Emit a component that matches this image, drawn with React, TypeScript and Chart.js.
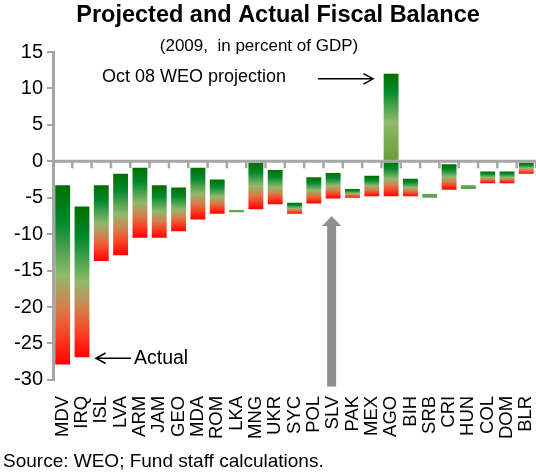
import React, { useEffect, useRef } from "react";
import { Chart, registerables } from "chart.js";

Chart.register(...registerables);

const categories = ["MDV","IRQ","ISL","LVA","ARM","JAM","GEO","MDA","ROM","LKA","MNG","UKR","SYC","POL","SLV","PAK","MEX","AGO","BIH","SRB","CRI","HUN","COL","DOM","BLR"];
const projected = [-3.3,-6.2,-3.3,-1.7,-0.9,-3.3,-3.6,-0.9,-2.5,-6.7,-0.2,-1.2,-5.7,-2.2,-1.6,-3.8,-2.0,12.0,-2.4,-4.5,-0.4,-3.3,-1.4,-1.4,-0.2];
const actual = [-27.9,-26.9,-13.7,-12.9,-10.5,-10.5,-9.6,-8.0,-7.2,-7.0,-6.6,-5.9,-7.2,-5.8,-5.1,-5.0,-4.8,-4.8,-4.8,-5.0,-3.9,-3.8,-3.0,-3.0,-1.7];
const yTicks = [15, 10, 5, 0, -5, -10, -15, -20, -25, -30];

const title = "Projected and Actual Fiscal Balance";
const subtitle = "(2009,  in percent of GDP)";
const source = "Source: WEO; Fund staff calculations.";
const projLabel = "Oct 08 WEO projection";
const actualLabel = "Actual";
const FONT = '"Liberation Sans", Arial, sans-serif';
const GRAY = "#a6a6a6";

function makeFill(kind: "below" | "above") {
  return (ctx: any) => {
    const chart = ctx.chart;
    const y = chart.scales && chart.scales.y;
    const raw = ctx.raw;
    if (!y || !raw || !Array.isArray(raw)) return "#3c9c3c";
    const top = y.getPixelForValue(Math.max(raw[0], raw[1]));
    const bot = y.getPixelForValue(Math.min(raw[0], raw[1]));
    if (!isFinite(top) || !isFinite(bot)) return "#3c9c3c";
    if (bot - top < 5) return "#5aa64a";
    const g = chart.ctx.createLinearGradient(0, top, 0, bot);
    if (kind === "above") {
      g.addColorStop(0, "#007000");
      g.addColorStop(0.2, "#008a2e");
      g.addColorStop(0.55, "#8fbb6c");
      g.addColorStop(1, "#6a9a3a");
    } else {
      g.addColorStop(0, "#007000");
      g.addColorStop(0.2, "#00872c");
      g.addColorStop(0.5, "#8fba6c");
      g.addColorStop(0.68, "#d4804c");
      g.addColorStop(0.85, "#ff3a22");
      g.addColorStop(1, "#ff0000");
    }
    return g;
  };
}

function arrow(c: CanvasRenderingContext2D, x1: number, y1: number, x2: number, y2: number) {
  c.beginPath();
  c.moveTo(x1, y1);
  c.lineTo(x2, y2);
  const ang = Math.atan2(y2 - y1, x2 - x1);
  const L = 11;
  c.moveTo(x2 - L * Math.cos(ang - 0.5), y2 - L * Math.sin(ang - 0.5));
  c.lineTo(x2, y2);
  c.lineTo(x2 - L * Math.cos(ang + 0.5), y2 - L * Math.sin(ang + 0.5));
  c.stroke();
}

const decor = {
  id: "decor",
  afterDatasetsDraw(chart: any) {
    const c = chart.ctx as CanvasRenderingContext2D;
    const { left, right } = chart.chartArea;
    const x = chart.scales.x;
    const y = chart.scales.y;
    const y0 = y.getPixelForValue(0);
    c.save();
    c.strokeStyle = GRAY;
    c.lineWidth = 3;
    c.beginPath();
    c.moveTo(left, y0);
    c.lineTo(right, y0);
    c.stroke();
    c.lineWidth = 2.5;
    const half = (x.getPixelForValue(1) - x.getPixelForValue(0)) / 2;
    for (let i = 0; i < categories.length; i++) {
      const xb = x.getPixelForValue(i) + half;
      c.beginPath();
      c.moveTo(xb, y0);
      c.lineTo(xb, y0 + 7);
      c.stroke();
    }
    c.restore();
  },
  afterDraw(chart: any) {
    const c = chart.ctx as CanvasRenderingContext2D;
    const x = chart.scales.x;
    const y = chart.scales.y;
    c.save();
    c.fillStyle = "#000";
    c.textAlign = "center";
    c.textBaseline = "alphabetic";
    c.font = `bold 23.5px ${FONT}`;
    c.fillText(title, 278, 22);
    c.font = `17px ${FONT}`;
    c.fillText(subtitle, 259, 51);
    c.textAlign = "left";
    c.font = `19px ${FONT}`;
    c.fillText(source, 3, 467);

    // projection annotation -> AGO
    const iA = categories.indexOf("AGO");
    const xA = x.getPixelForValue(iA);
    const yA = y.getPixelForValue(projected[iA]);
    c.font = `18px ${FONT}`;
    c.textBaseline = "middle";
    c.textAlign = "right";
    c.fillText(projLabel, xA - 105, yA + 3);
    c.strokeStyle = "#000";
    c.lineWidth = 1.5;
    arrow(c, xA - 73, yA + 5, xA - 18, yA + 5);

    // actual annotation -> IRQ
    const iI = categories.indexOf("IRQ");
    const xI = x.getPixelForValue(iI);
    const yI = y.getPixelForValue(actual[iI]);
    c.textAlign = "left";
    c.font = `19.5px ${FONT}`;
    c.fillText(actualLabel, xI + 52, yI + 1);
    arrow(c, xI + 49, yI + 1, xI + 14, yI + 1);

    // big gray arrow under SLV
    const iS = categories.indexOf("SLV");
    const xs = x.getPixelForValue(iS) - 1.5;
    const tip = y.getPixelForValue(-7.5);
    const base = y.getPixelForValue(-30.9);
    c.fillStyle = "#8f8f8f";
    c.beginPath();
    c.moveTo(xs, tip);
    c.lineTo(xs + 9.5, tip + 10);
    c.lineTo(xs + 4.5, tip + 10);
    c.lineTo(xs + 4.5, base);
    c.lineTo(xs - 4.5, base);
    c.lineTo(xs - 4.5, tip + 10);
    c.lineTo(xs - 9.5, tip + 10);
    c.closePath();
    c.fill();
    c.restore();
  },
};

export default function App() {
  const ref = useRef<HTMLCanvasElement | null>(null);
  useEffect(() => {
    if (!ref.current) return;
    const below = categories.map((_, i) => [Math.min(projected[i], 0), actual[i]]);
    const above = categories.map((_, i) => (projected[i] > 0 ? [0, projected[i]] : null));
    const chart = new Chart(ref.current, {
      type: "bar",
      data: {
        labels: categories,
        datasets: [
          { label: "Below", data: below as any, backgroundColor: makeFill("below") as any, borderWidth: 0, grouped: false, categoryPercentage: 1, barPercentage: 0.77 } as any,
          { label: "Above", data: above as any, backgroundColor: makeFill("above") as any, borderWidth: 0, grouped: false, categoryPercentage: 1, barPercentage: 0.77 } as any,
        ],
      },
      options: {
        animation: false,
        responsive: false,
        maintainAspectRatio: false,
        events: [],
        layout: { padding: { top: 52, right: 0, left: 0, bottom: 26 } },
        plugins: { legend: { display: false }, tooltip: { enabled: false }, title: { display: false } },
        scales: {
          x: {
            grid: { display: false },
            border: { display: false },
            afterFit: (s: any) => { s.paddingLeft = 0; s.paddingRight = 0; },
            ticks: {
              minRotation: 90,
              maxRotation: 90,
              autoSkip: false,
              padding: 8,
              color: "#000",
              font: { family: FONT, size: 18.5 },
            },
          },
          y: {
            min: -30,
            max: 15,
            afterBuildTicks: (s: any) => { s.ticks = yTicks.map((v) => ({ value: v })); },
            afterFit: (s: any) => { s.width = 53; },
            grid: { drawOnChartArea: false, drawTicks: true, tickLength: 6, color: GRAY, lineWidth: 2 },
            border: { display: true, color: GRAY, width: 3 },
            ticks: { padding: 4, color: "#000", font: { family: FONT, size: 20 } },
          },
        },
      },
      plugins: [decor],
    });
    return () => chart.destroy();
  }, []);
  return (
    <div style={{ position: "fixed", left: 0, top: 0, width: 536, height: 473 }}>
      <canvas ref={ref} width={536} height={473} style={{ width: 536, height: 473 }} />
    </div>
  );
}
